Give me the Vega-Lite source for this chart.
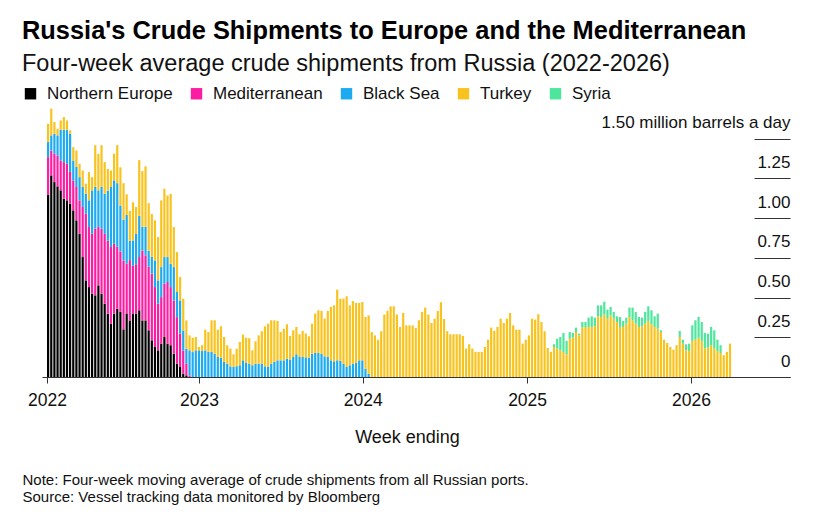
{
  "$schema": "https://vega.github.io/schema/vega-lite/v6.json",
  "background": "white",
  "autosize": {"type": "none"},
  "padding": {"left": 42, "top": 99, "right": 30, "bottom": 144},
  "width": 748,
  "height": 278,
  "title": {
    "text": "Russia's Crude Shipments to Europe and the Mediterranean",
    "subtitle": "Four-week average crude shipments from Russia (2022-2026)",
    "anchor": "start",
    "frame": "bounds",
    "font": "Liberation Sans",
    "fontSize": 25.4,
    "fontWeight": "bold",
    "color": "#000",
    "subtitleFont": "Liberation Sans",
    "subtitleFontSize": 23.5,
    "subtitleColor": "#111",
    "subtitlePadding": 7,
    "offset": 10
  },
  "data": {
    "values": [
      {"week": "2022-01-30", "ne": 1.149, "med": 0.235, "bs": 0.095, "tr": 0.115},
      {"week": "2022-02-06", "ne": 1.269, "med": 0.157, "bs": 0.095, "tr": 0.168},
      {"week": "2022-02-13", "ne": 1.227, "med": 0.178, "bs": 0.126, "tr": 0.074},
      {"week": "2022-02-20", "ne": 1.2, "med": 0.195, "bs": 0.126, "tr": 0.042},
      {"week": "2022-02-27", "ne": 1.175, "med": 0.188, "bs": 0.193, "tr": 0.059},
      {"week": "2022-03-06", "ne": 1.122, "med": 0.231, "bs": 0.203, "tr": 0.08},
      {"week": "2022-03-13", "ne": 1.112, "med": 0.23, "bs": 0.214, "tr": 0.059},
      {"week": "2022-03-20", "ne": 1.091, "med": 0.2, "bs": 0.241, "tr": 0.021},
      {"week": "2022-03-27", "ne": 1.049, "med": 0.188, "bs": 0.126, "tr": 0.084},
      {"week": "2022-04-03", "ne": 0.986, "med": 0.21, "bs": 0.126, "tr": 0.104},
      {"week": "2022-04-10", "ne": 0.902, "med": 0.21, "bs": 0.146, "tr": 0.084},
      {"week": "2022-04-17", "ne": 0.755, "med": 0.315, "bs": 0.126, "tr": 0.104},
      {"week": "2022-04-24", "ne": 0.608, "med": 0.42, "bs": 0.126, "tr": 0.063},
      {"week": "2022-05-01", "ne": 0.566, "med": 0.378, "bs": 0.168, "tr": 0.178},
      {"week": "2022-05-08", "ne": 0.524, "med": 0.378, "bs": 0.273, "tr": 0.083},
      {"week": "2022-05-15", "ne": 0.514, "med": 0.42, "bs": 0.263, "tr": 0.262},
      {"week": "2022-05-22", "ne": 0.577, "med": 0.367, "bs": 0.231, "tr": 0.23},
      {"week": "2022-05-29", "ne": 0.524, "med": 0.41, "bs": 0.263, "tr": 0.262},
      {"week": "2022-06-05", "ne": 0.461, "med": 0.44, "bs": 0.252, "tr": 0.2},
      {"week": "2022-06-12", "ne": 0.398, "med": 0.46, "bs": 0.315, "tr": 0.136},
      {"week": "2022-06-19", "ne": 0.335, "med": 0.483, "bs": 0.378, "tr": 0.104},
      {"week": "2022-06-26", "ne": 0.398, "med": 0.44, "bs": 0.4, "tr": 0.168},
      {"week": "2022-07-03", "ne": 0.43, "med": 0.39, "bs": 0.4, "tr": 0.24},
      {"week": "2022-07-10", "ne": 0.41, "med": 0.38, "bs": 0.29, "tr": 0.24},
      {"week": "2022-07-17", "ne": 0.3, "med": 0.434, "bs": 0.256, "tr": 0.23},
      {"week": "2022-07-24", "ne": 0.4, "med": 0.313, "bs": 0.307, "tr": 0.13},
      {"week": "2022-07-31", "ne": 0.356, "med": 0.38, "bs": 0.12, "tr": 0.19},
      {"week": "2022-08-07", "ne": 0.4, "med": 0.3, "bs": 0.16, "tr": 0.24},
      {"week": "2022-08-14", "ne": 0.4, "med": 0.31, "bs": 0.19, "tr": 0.17},
      {"week": "2022-08-21", "ne": 0.42, "med": 0.335, "bs": 0.26, "tr": 0.35},
      {"week": "2022-08-28", "ne": 0.356, "med": 0.44, "bs": 0.15, "tr": 0.35},
      {"week": "2022-09-04", "ne": 0.356, "med": 0.41, "bs": 0.18, "tr": 0.38},
      {"week": "2022-09-11", "ne": 0.294, "med": 0.4, "bs": 0.1, "tr": 0.3},
      {"week": "2022-09-18", "ne": 0.231, "med": 0.42, "bs": 0.105, "tr": 0.27},
      {"week": "2022-09-25", "ne": 0.189, "med": 0.377, "bs": 0.168, "tr": 0.252},
      {"week": "2022-10-02", "ne": 0.168, "med": 0.293, "bs": 0.147, "tr": 0.273},
      {"week": "2022-10-09", "ne": 0.21, "med": 0.293, "bs": 0.189, "tr": 0.42},
      {"week": "2022-10-16", "ne": 0.252, "med": 0.335, "bs": 0.168, "tr": 0.43},
      {"week": "2022-10-23", "ne": 0.21, "med": 0.388, "bs": 0.157, "tr": 0.388},
      {"week": "2022-10-30", "ne": 0.2, "med": 0.366, "bs": 0.147, "tr": 0.44},
      {"week": "2022-11-06", "ne": 0.147, "med": 0.335, "bs": 0.21, "tr": 0.252},
      {"week": "2022-11-13", "ne": 0.084, "med": 0.293, "bs": 0.158, "tr": 0.251},
      {"week": "2022-11-20", "ne": 0.063, "med": 0.21, "bs": 0.209, "tr": 0.147},
      {"week": "2022-11-27", "ne": 0.021, "med": 0.146, "bs": 0.126, "tr": 0.2},
      {"week": "2022-12-04", "ne": 0.01, "med": 0.074, "bs": 0.094, "tr": 0.178},
      {"week": "2022-12-11", "med": 0.01, "bs": 0.158, "tr": 0.094},
      {"week": "2022-12-18", "bs": 0.157, "tr": 0.09},
      {"week": "2022-12-25", "bs": 0.168, "tr": 0.084},
      {"week": "2023-01-01", "bs": 0.168, "tr": 0.021},
      {"week": "2023-01-08", "bs": 0.164, "tr": 0.036},
      {"week": "2023-01-15", "bs": 0.168, "tr": 0.13},
      {"week": "2023-01-22", "bs": 0.158, "tr": 0.125},
      {"week": "2023-01-29", "bs": 0.158, "tr": 0.199},
      {"week": "2023-02-05", "bs": 0.147, "tr": 0.21},
      {"week": "2023-02-12", "bs": 0.126, "tr": 0.172},
      {"week": "2023-02-19", "bs": 0.122, "tr": 0.197},
      {"week": "2023-02-26", "bs": 0.095, "tr": 0.157},
      {"week": "2023-03-05", "bs": 0.084, "tr": 0.116},
      {"week": "2023-03-12", "bs": 0.067, "tr": 0.112},
      {"week": "2023-03-19", "bs": 0.063, "tr": 0.08},
      {"week": "2023-03-26", "bs": 0.068, "tr": 0.11},
      {"week": "2023-04-02", "bs": 0.074, "tr": 0.147},
      {"week": "2023-04-09", "bs": 0.105, "tr": 0.162},
      {"week": "2023-04-16", "bs": 0.088, "tr": 0.16},
      {"week": "2023-04-23", "bs": 0.084, "tr": 0.16},
      {"week": "2023-04-30", "bs": 0.074, "tr": 0.094},
      {"week": "2023-05-07", "bs": 0.084, "tr": 0.141},
      {"week": "2023-05-14", "bs": 0.084, "tr": 0.178},
      {"week": "2023-05-21", "bs": 0.084, "tr": 0.204},
      {"week": "2023-05-28", "bs": 0.067, "tr": 0.252},
      {"week": "2023-06-04", "bs": 0.063, "tr": 0.273},
      {"week": "2023-06-11", "bs": 0.084, "tr": 0.273},
      {"week": "2023-06-18", "bs": 0.095, "tr": 0.262},
      {"week": "2023-06-25", "bs": 0.105, "tr": 0.248},
      {"week": "2023-07-02", "bs": 0.105, "tr": 0.178},
      {"week": "2023-07-09", "bs": 0.105, "tr": 0.199},
      {"week": "2023-07-16", "bs": 0.116, "tr": 0.216},
      {"week": "2023-07-23", "bs": 0.11, "tr": 0.148},
      {"week": "2023-07-30", "bs": 0.126, "tr": 0.168},
      {"week": "2023-08-06", "bs": 0.143, "tr": 0.172},
      {"week": "2023-08-13", "bs": 0.126, "tr": 0.143},
      {"week": "2023-08-20", "bs": 0.126, "tr": 0.164},
      {"week": "2023-08-27", "bs": 0.124, "tr": 0.15},
      {"week": "2023-09-03", "bs": 0.122, "tr": 0.134},
      {"week": "2023-09-10", "bs": 0.147, "tr": 0.189},
      {"week": "2023-09-17", "bs": 0.151, "tr": 0.248},
      {"week": "2023-09-24", "bs": 0.151, "tr": 0.269},
      {"week": "2023-10-01", "bs": 0.147, "tr": 0.269},
      {"week": "2023-10-08", "bs": 0.13, "tr": 0.237},
      {"week": "2023-10-15", "bs": 0.126, "tr": 0.29},
      {"week": "2023-10-22", "bs": 0.105, "tr": 0.336},
      {"week": "2023-10-29", "bs": 0.099, "tr": 0.352},
      {"week": "2023-11-05", "bs": 0.105, "tr": 0.445},
      {"week": "2023-11-12", "bs": 0.101, "tr": 0.392},
      {"week": "2023-11-19", "bs": 0.084, "tr": 0.409},
      {"week": "2023-11-26", "bs": 0.063, "tr": 0.445},
      {"week": "2023-12-03", "bs": 0.074, "tr": 0.377},
      {"week": "2023-12-10", "bs": 0.084, "tr": 0.394},
      {"week": "2023-12-17", "bs": 0.088, "tr": 0.378},
      {"week": "2023-12-24", "bs": 0.105, "tr": 0.361},
      {"week": "2023-12-31", "bs": 0.105, "tr": 0.367},
      {"week": "2024-01-07", "bs": 0.05, "tr": 0.328},
      {"week": "2024-01-14", "bs": 0.02, "tr": 0.368},
      {"week": "2024-01-21", "tr": 0.283},
      {"week": "2024-01-28", "tr": 0.262},
      {"week": "2024-02-04", "tr": 0.235},
      {"week": "2024-02-11", "tr": 0.288},
      {"week": "2024-02-18", "tr": 0.393},
      {"week": "2024-02-25", "tr": 0.416},
      {"week": "2024-03-03", "tr": 0.445},
      {"week": "2024-03-10", "tr": 0.445},
      {"week": "2024-03-17", "tr": 0.393},
      {"week": "2024-03-24", "tr": 0.315},
      {"week": "2024-03-31", "tr": 0.403},
      {"week": "2024-04-07", "tr": 0.325},
      {"week": "2024-04-14", "tr": 0.325},
      {"week": "2024-04-21", "tr": 0.325},
      {"week": "2024-04-28", "tr": 0.309},
      {"week": "2024-05-05", "tr": 0.357},
      {"week": "2024-05-12", "tr": 0.41},
      {"week": "2024-05-19", "tr": 0.437},
      {"week": "2024-05-26", "tr": 0.393},
      {"week": "2024-06-02", "tr": 0.34},
      {"week": "2024-06-09", "tr": 0.367},
      {"week": "2024-06-16", "tr": 0.416},
      {"week": "2024-06-23", "tr": 0.471},
      {"week": "2024-06-30", "tr": 0.365},
      {"week": "2024-07-07", "tr": 0.288},
      {"week": "2024-07-14", "tr": 0.269},
      {"week": "2024-07-21", "tr": 0.269},
      {"week": "2024-07-28", "tr": 0.269},
      {"week": "2024-08-04", "tr": 0.269},
      {"week": "2024-08-11", "tr": 0.258},
      {"week": "2024-08-18", "tr": 0.179},
      {"week": "2024-08-25", "tr": 0.206},
      {"week": "2024-09-01", "tr": 0.179},
      {"week": "2024-09-08", "tr": 0.158},
      {"week": "2024-09-15", "tr": 0.158},
      {"week": "2024-09-22", "tr": 0.158},
      {"week": "2024-09-29", "tr": 0.189},
      {"week": "2024-10-06", "tr": 0.235},
      {"week": "2024-10-13", "tr": 0.311},
      {"week": "2024-10-20", "tr": 0.29},
      {"week": "2024-10-27", "tr": 0.315},
      {"week": "2024-11-03", "tr": 0.367},
      {"week": "2024-11-10", "tr": 0.34},
      {"week": "2024-11-17", "tr": 0.367},
      {"week": "2024-11-24", "tr": 0.403},
      {"week": "2024-12-01", "tr": 0.325},
      {"week": "2024-12-08", "tr": 0.298},
      {"week": "2024-12-15", "tr": 0.298},
      {"week": "2024-12-22", "tr": 0.21},
      {"week": "2024-12-29", "tr": 0.235},
      {"week": "2025-01-05", "tr": 0.262},
      {"week": "2025-01-12", "tr": 0.367},
      {"week": "2025-01-19", "tr": 0.361},
      {"week": "2025-01-26", "tr": 0.395},
      {"week": "2025-02-02", "tr": 0.346},
      {"week": "2025-02-09", "tr": 0.288},
      {"week": "2025-02-16", "tr": 0.183},
      {"week": "2025-02-23", "tr": 0.158},
      {"week": "2025-03-02", "tr": 0.189, "sy": 0.017},
      {"week": "2025-03-09", "tr": 0.179, "sy": 0.062},
      {"week": "2025-03-16", "tr": 0.168, "sy": 0.084},
      {"week": "2025-03-23", "tr": 0.158, "sy": 0.119},
      {"week": "2025-03-30", "tr": 0.143, "sy": 0.084},
      {"week": "2025-04-06", "tr": 0.241, "sy": 0.042},
      {"week": "2025-04-13", "tr": 0.248, "sy": 0.029},
      {"week": "2025-04-20", "tr": 0.283, "sy": 0.028},
      {"week": "2025-04-27", "tr": 0.262, "sy": 0.011},
      {"week": "2025-05-04", "tr": 0.311, "sy": 0.035},
      {"week": "2025-05-11", "tr": 0.315, "sy": 0.031},
      {"week": "2025-05-18", "tr": 0.315, "sy": 0.059},
      {"week": "2025-05-25", "tr": 0.315, "sy": 0.067},
      {"week": "2025-06-01", "tr": 0.319, "sy": 0.055},
      {"week": "2025-06-08", "tr": 0.382, "sy": 0.069},
      {"week": "2025-06-15", "tr": 0.378, "sy": 0.073},
      {"week": "2025-06-22", "tr": 0.393, "sy": 0.081},
      {"week": "2025-06-29", "tr": 0.367, "sy": 0.057},
      {"week": "2025-07-06", "tr": 0.388, "sy": 0.053},
      {"week": "2025-07-13", "tr": 0.367, "sy": 0.043},
      {"week": "2025-07-20", "tr": 0.346, "sy": 0.036},
      {"week": "2025-07-27", "tr": 0.315, "sy": 0.063},
      {"week": "2025-08-03", "tr": 0.315, "sy": 0.038},
      {"week": "2025-08-10", "tr": 0.336, "sy": 0.038},
      {"week": "2025-08-17", "tr": 0.378, "sy": 0.059},
      {"week": "2025-08-24", "tr": 0.357, "sy": 0.08},
      {"week": "2025-08-31", "tr": 0.336, "sy": 0.074},
      {"week": "2025-09-07", "tr": 0.315, "sy": 0.063},
      {"week": "2025-09-14", "tr": 0.319, "sy": 0.055},
      {"week": "2025-09-21", "tr": 0.336, "sy": 0.074},
      {"week": "2025-09-28", "tr": 0.353, "sy": 0.092},
      {"week": "2025-10-05", "tr": 0.332, "sy": 0.088},
      {"week": "2025-10-12", "tr": 0.315, "sy": 0.067},
      {"week": "2025-10-19", "tr": 0.304, "sy": 0.095},
      {"week": "2025-10-26", "tr": 0.283, "sy": 0.011},
      {"week": "2025-11-02", "tr": 0.235},
      {"week": "2025-11-09", "tr": 0.214},
      {"week": "2025-11-16", "tr": 0.189},
      {"week": "2025-11-23", "tr": 0.172},
      {"week": "2025-11-30", "tr": 0.2},
      {"week": "2025-12-07", "tr": 0.252, "sy": 0.038},
      {"week": "2025-12-14", "tr": 0.21, "sy": 0.025},
      {"week": "2025-12-21", "tr": 0.168, "sy": 0.038},
      {"week": "2025-12-28", "tr": 0.164, "sy": 0.046},
      {"week": "2026-01-04", "tr": 0.227, "sy": 0.098},
      {"week": "2026-01-11", "tr": 0.235, "sy": 0.122},
      {"week": "2026-01-18", "tr": 0.248, "sy": 0.13},
      {"week": "2026-01-25", "tr": 0.227, "sy": 0.119},
      {"week": "2026-02-01", "tr": 0.179, "sy": 0.098},
      {"week": "2026-02-08", "tr": 0.185, "sy": 0.088},
      {"week": "2026-02-15", "tr": 0.2, "sy": 0.115},
      {"week": "2026-02-22", "tr": 0.179, "sy": 0.115},
      {"week": "2026-03-01", "tr": 0.164, "sy": 0.071},
      {"week": "2026-03-08", "tr": 0.151, "sy": 0.049},
      {"week": "2026-03-15", "tr": 0.137},
      {"week": "2026-03-22", "tr": 0.158},
      {"week": "2026-03-29", "tr": 0.21}
    ]
  },
  "transform": [
    {"fold": ["ne", "med", "bs", "tr", "sy"], "as": ["region", "mbd"]},
    {"filter": "datum.mbd > 0"},
    {"calculate": "indexof(['ne', 'med', 'bs', 'tr', 'sy'], datum.region)", "as": "stack_rank"}
  ],
  "mark": {"type": "bar", "width": 2.2},
  "encoding": {
    "x": {
      "field": "week",
      "type": "temporal",
      "scale": {
        "type": "utc",
        "domain": [
          {"year": 2022, "month": 1, "date": 27, "hours": 12, "utc": true},
          {"year": 2026, "month": 7, "date": 29, "hours": 12, "utc": true}
        ]
      },
      "axis": {
        "values": [
          {"year": 2022, "month": 1, "date": 27, "hours": 12, "utc": true},
          {"year": 2023, "month": 1, "date": 1, "utc": true},
          {"year": 2024, "month": 1, "date": 1, "utc": true},
          {"year": 2025, "month": 1, "date": 1, "utc": true},
          {"year": 2026, "month": 1, "date": 1, "utc": true}
        ],
        "format": "%Y",
        "grid": false,
        "domainColor": "#333",
        "tickColor": "#333",
        "tickSize": 6,
        "labelFontSize": 17.5,
        "labelColor": "#111",
        "labelPadding": 8,
        "labelFlush": false,
        "labelOverlap": false,
        "title": "Week ending",
        "titleFontSize": 18,
        "titleFontWeight": "normal",
        "titleColor": "#111",
        "titlePadding": 20,
        "titleX": 365,
        "titleAlign": "center"
      }
    },
    "y": {
      "field": "mbd",
      "type": "quantitative",
      "stack": "zero",
      "scale": {"domain": [0, 1.75], "nice": false},
      "axis": {
        "orient": "right",
        "values": [0, 0.25, 0.5, 0.75, 1, 1.25, 1.5],
        "domain": false,
        "grid": false,
        "tickSize": -36,
        "tickColor": "#333",
        "tickWidth": 1.2,
        "labelPadding": 36,
        "labelAlign": "right",
        "labelBaseline": "alphabetic",
        "labelOffset": -11,
        "labelFontSize": 17,
        "labelColor": "#111",
        "labelLimit": 400,
        "labelOverlap": false,
        "labelFlush": false,
        "labelBound": false,
        "labelExpr": "datum.value == 0 ? '0' : datum.value == 1.5 ? '1.50 million barrels a day' : format(datum.value, '.2f')",
        "title": [
          "Note: Four-week moving average of crude shipments from all Russian ports.",
          "Source: Vessel tracking data monitored by Bloomberg"
        ],
        "titleAngle": 0,
        "titleAlign": "left",
        "titleBaseline": "top",
        "titleX": -768,
        "titleY": 373,
        "titleFontSize": 15,
        "titleFontWeight": "normal",
        "titleColor": "#111",
        "titleLineHeight": 17
      }
    },
    "color": {
      "field": "region",
      "type": "nominal",
      "sort": ["ne", "med", "bs", "tr", "sy"],
      "scale": {
        "domain": ["ne", "med", "bs", "tr", "sy"],
        "range": ["#000000", "#fb1ea2", "#1eaaf1", "#f8c31e", "#4ee69c"]
      },
      "legend": {
        "orient": "none",
        "legendX": -20,
        "legendY": -14,
        "direction": "horizontal",
        "columns": 5,
        "title": null,
        "symbolType": "square",
        "symbolSize": 130,
        "symbolStrokeWidth": 0,
        "symbolOpacity": 1,
        "labelFontSize": 17,
        "labelColor": "#111",
        "labelOffset": 8,
        "columnPadding": 15,
        "labelExpr": "datum.label == 'ne' ? 'Northern Europe' : datum.label == 'med' ? 'Mediterranean' : datum.label == 'bs' ? 'Black Sea' : datum.label == 'tr' ? 'Turkey' : 'Syria'"
      }
    },
    "order": {"field": "stack_rank", "type": "quantitative", "sort": "ascending"}
  },
  "config": {
    "view": {"stroke": null},
    "font": "Liberation Sans"
  }
}
